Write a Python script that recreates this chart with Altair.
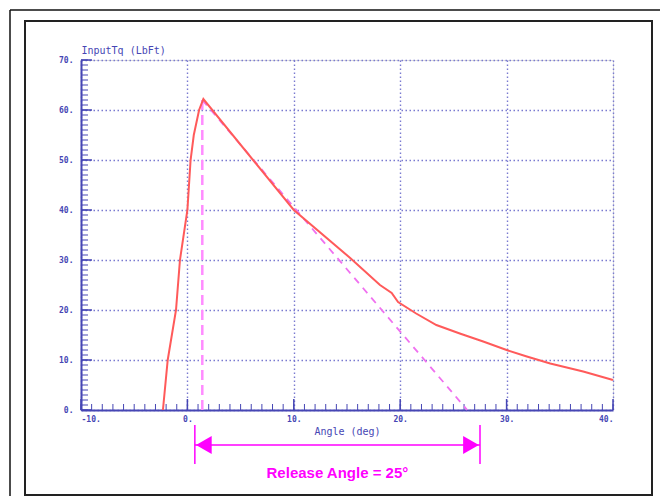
import altair as alt
import pandas as pd

# ---- data ----
curve_x = [-2.3, -1.85, -1.07, -0.7, 0.0, 0.3, 0.6, 1.1, 1.5, 10.0, 15.3, 18.1, 19.2, 19.8,
           21.5, 23.4, 25.6, 27.8, 30.0, 31.9, 34.1, 37.2, 40.0]
curve_y = [0, 10, 20, 30, 40, 50, 55, 60, 62.2, 40.0, 30.4, 25.0, 23.4, 21.6,
           19.3, 17.0, 15.3, 13.7, 12.0, 10.7, 9.3, 7.7, 6.0]

peak_vert_x = [1.4, 1.4]
peak_vert_y = [0, 62]
slope_x = [1.4, 26.3]
slope_y = [62, 0]

release_start = 0.7
release_end = 27.5
release_label = "Release Angle = 25°"

x_major = [-10, 0, 10, 20, 30, 40]
y_major = [0, 10, 20, 30, 40, 50, 60, 70]
x_minor = list(range(-10, 41))
y_minor = list(range(0, 71))

W, H = 532, 350
BLUE = "#4646b4"
FONT = "DejaVu Sans Mono"

xs = alt.Scale(domain=[-10, 40], nice=False, zero=False)
ys = alt.Scale(domain=[0, 70], nice=False, zero=False)

curve_df = pd.DataFrame({"x": curve_x, "y": curve_y})
vert_df = pd.DataFrame({"x": peak_vert_x, "y": peak_vert_y})
slope_df = pd.DataFrame({"x": slope_x, "y": slope_y})

one = alt.Data(values=[{"a": 1}])

# frames (decoration)
outer_top = alt.Chart(one).mark_rule(color="#111111", strokeWidth=1.5).encode(
    x=alt.value(-71), x2=alt.value(579), y=alt.value(-50))
outer_left = alt.Chart(one).mark_rule(color="#111111", strokeWidth=1.5).encode(
    x=alt.value(-71), y=alt.value(-50), y2=alt.value(700))
inner = alt.Chart(one).mark_rect(fill=None, stroke="#222222", strokeWidth=2).encode(
    x=alt.value(-56), x2=alt.value(571), y=alt.value(-39), y2=alt.value(435))

# base with axes
base = alt.Chart(curve_df).mark_line(opacity=0).encode(
    x=alt.X("x:Q", scale=xs, axis=alt.Axis(
        values=x_major, labelExpr="datum.value + '.'", title="Angle (deg)",
        grid=True, gridDash=[1.5, 2.5], gridColor="#7a7ad0", gridWidth=1.4,
        ticks=False, domain=True, domainColor=BLUE, domainWidth=2,
        labelFont=FONT, labelFontSize=8, labelFontWeight="bold", labelColor=BLUE,
        labelPadding=5, titleFont=FONT, titleFontSize=10, titleFontWeight="normal",
        titleColor=BLUE, titlePadding=3)),
    y=alt.Y("y:Q", scale=ys, axis=alt.Axis(
        values=y_major, labelExpr="datum.value + '.'", title="InputTq (LbFt)",
        grid=True, gridDash=[1.5, 2.5], gridColor="#7a7ad0", gridWidth=1.4,
        ticks=False, domain=True, domainColor=BLUE, domainWidth=2,
        labelFont=FONT, labelFontSize=8, labelFontWeight="bold", labelColor=BLUE,
        labelPadding=8, titleFont=FONT, titleFontSize=10, titleFontWeight="normal",
        titleColor=BLUE, titleAngle=0, titleAlign="left", titleBaseline="bottom",
        titleX=0, titleY=-5)),
)

# inward ticks
xminor = alt.Chart(pd.DataFrame({"t": x_minor})).mark_rule(color=BLUE, strokeWidth=1).encode(
    x=alt.X("t:Q", scale=xs), y=alt.value(H), y2=alt.value(H - 6))
xmajor = alt.Chart(pd.DataFrame({"t": x_major})).mark_rule(color=BLUE, strokeWidth=1.5).encode(
    x=alt.X("t:Q", scale=xs), y=alt.value(H), y2=alt.value(H - 11))
yminor = alt.Chart(pd.DataFrame({"t": y_minor})).mark_rule(color=BLUE, strokeWidth=1).encode(
    y=alt.Y("t:Q", scale=ys), x=alt.value(0), x2=alt.value(7))
ymajor = alt.Chart(pd.DataFrame({"t": y_major})).mark_rule(color=BLUE, strokeWidth=1.5).encode(
    y=alt.Y("t:Q", scale=ys), x=alt.value(0), x2=alt.value(11))

vert = alt.Chart(vert_df).mark_line(color="#ff8cff", strokeWidth=2.5, strokeDash=[10, 5]).encode(
    x=alt.X("x:Q", scale=xs), y=alt.Y("y:Q", scale=ys))
slope = alt.Chart(slope_df).mark_line(color="#f070f0", strokeWidth=1.8, strokeDash=[7, 6]).encode(
    x=alt.X("x:Q", scale=xs), y=alt.Y("y:Q", scale=ys))
curve = alt.Chart(curve_df).mark_line(color="#ff5a5a", strokeWidth=2).encode(
    x=alt.X("x:Q", scale=xs), y=alt.Y("y:Q", scale=ys))

# release-angle annotation
ann_df = pd.DataFrame({"x": [release_start], "x2": [release_end],
                       "mid": [(release_start + release_end) / 2], "label": [release_label]})
MAG = "#ff00ff"
arrow = alt.Chart(ann_df).mark_rule(color=MAG, strokeWidth=1.5).encode(
    x=alt.X("x:Q", scale=xs), x2="x2:Q", y=alt.value(385))
bars_df = pd.DataFrame({"x": [release_start, release_end]})
bars = alt.Chart(bars_df).mark_rule(color=MAG, strokeWidth=1.5).encode(
    x=alt.X("x:Q", scale=xs), y=alt.value(365), y2=alt.value(404))
head_l = alt.Chart(ann_df).mark_point(shape="triangle-left", filled=True, color=MAG,
                                      size=330, opacity=1, xOffset=9).encode(
    x=alt.X("x:Q", scale=xs), y=alt.value(385))
head_r = alt.Chart(ann_df).mark_point(shape="triangle-right", filled=True, color=MAG,
                                      size=330, opacity=1, xOffset=-9).encode(
    x=alt.X("x2:Q", scale=xs), y=alt.value(385))
label = alt.Chart(ann_df).mark_text(color=MAG, font="Liberation Sans", fontWeight="bold",
                                    fontSize=15, baseline="middle", align="center").encode(
    x=alt.X("mid:Q", scale=xs), y=alt.value(413), text="label:N")

chart = alt.layer(
    outer_top, outer_left, inner, base, xminor, xmajor, yminor, ymajor, vert, slope, curve,
    arrow, bars, head_l, head_r, label
).properties(
    width=W, height=H,
    autosize=alt.AutoSizeParams(type="none"),
    padding={"left": 73, "top": 52, "right": 49, "bottom": 86},
).configure_view(stroke="#8c8cd8", strokeWidth=2).configure(background="white")

chart.save("out.html", embed_options={"renderer": "svg", "actions": False})
